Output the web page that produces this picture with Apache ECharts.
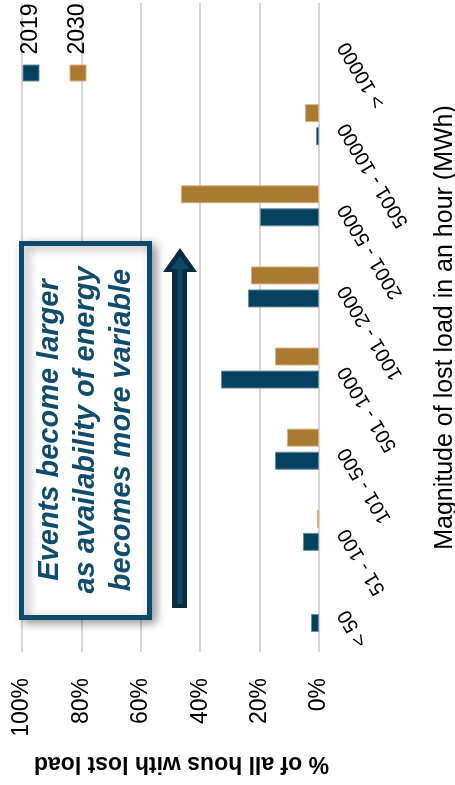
<!DOCTYPE html>
<html>
<head>
<meta charset="utf-8">
<script src="https://cdn.jsdelivr.net/npm/echarts@6/dist/echarts.min.js"></script>
<style>
html,body{margin:0;padding:0;background:#fff;}
#chart{width:455px;height:785px;}
</style>
</head>
<body>
<div id="chart"></div>
<script>
const categories = ['< 50', '51 - 100', '101 - 500', '501 - 1000', '1001 - 2000', '2001 - 5000', '5001 - 10000', '> 10000'];
const seriesNames = ['2019', '2030'];
const values2019 = [2.7, 5.4, 14.8, 33.0, 23.9, 19.9, 1.0, 0];
const values2030 = [0, 0.7, 10.8, 14.8, 22.9, 46.5, 4.7, 0];
const valueTicks = [0, 20, 40, 60, 80, 100];
const valueAxisTitle = '% of all hous with lost load';
const categoryAxisTitle = 'Magnitude of lost load in an hour (MWh)';
const noteLines = ['Events become larger', 'as availability of energy', 'becomes more variable'];

const COLORS = {'2019': '#05425f', '2030': '#a97a2f'};
const BORDERS = {'2019': '#6b8da0', '2030': '#d2b582'};
const FONT = 'Liberation Sans';

const chart = echarts.init(document.getElementById('chart'), null, {renderer: 'canvas'});

const seriesData = {'2019': values2019, '2030': values2030};

const option = {
  animation: false,
  backgroundColor: '#fff',
  textStyle: {fontFamily: FONT},
  grid: {left: 22, right: 136, top: 3, bottom: 133, containLabel: false, outerBoundsMode: 'none'},
  xAxis: {
    type: 'value',
    inverse: true,
    min: valueTicks[0],
    max: valueTicks[valueTicks.length - 1],
    interval: valueTicks[1] - valueTicks[0],
    position: 'bottom',
    axisLine: {show: false},
    axisTick: {show: false},
    splitLine: {show: true, lineStyle: {color: '#d6d6d6', width: 2}},
    axisLabel: {
      formatter: '{value}%', rotate: 90, margin: 26,
      fontSize: 23, color: '#000', fontFamily: FONT
    },
    name: valueAxisTitle,
    nameLocation: 'middle',
    nameRotate: 180,
    nameGap: 100,
    nameTextStyle: {fontSize: 23, fontWeight: 'bold', color: '#000', fontFamily: FONT, padding: [0, 22, 0, 0]}
  },
  yAxis: {
    type: 'category',
    data: categories,
    position: 'right',
    axisLine: {show: false},
    axisTick: {show: false},
    splitLine: {show: false},
    axisLabel: {
      rotate: 121, align: 'right', verticalAlign: 'middle', margin: 24,
      fontSize: 20, color: '#000', fontFamily: FONT, interval: 0
    },
    name: categoryAxisTitle,
    nameLocation: 'middle',
    nameRotate: 90,
    nameGap: 114,
    nameTextStyle: {fontSize: 25, color: '#000', fontFamily: FONT}
  },
  series: ['2030', '2019'].map(name => ({
    name: name,
    type: 'bar',
    data: seriesData[name].map(v => (v === 0 ? null : v)),
    barWidth: 18,
    barGap: '28%',
    itemStyle: {color: COLORS[name], borderColor: BORDERS[name], borderWidth: 1}
  })),
  graphic: []
};

// annotation box + text + arrow + legend
const g = [];
g.push({
  type: 'rect', z: 10,
  shape: {x: 21.5, y: 243.5, width: 128, height: 374},
  style: {fill: '#fff', stroke: '#0f4a6a', lineWidth: 5,
          shadowBlur: 10, shadowColor: 'rgba(0,0,0,0.35)', shadowOffsetX: 4, shadowOffsetY: 3}
});
g.push({
  type: 'text', z: 11, x: 86, y: 430, rotation: Math.PI / 2,
  style: {text: noteLines.join('\n'), font: 'italic bold 29px "Liberation Sans"', fill: '#0f4c6e',
          align: 'center', verticalAlign: 'middle', lineHeight: 36}
});
g.push({
  type: 'polygon', z: 10,
  shape: {points: [[172, 608], [187, 608], [187, 272], [197, 272], [180, 248], [163, 272], [172, 272]]},
  style: {fill: '#0b2b40'}
});
g.push({
  type: 'polygon', z: 11,
  shape: {points: [[177.5, 604], [182.5, 604], [182.5, 269], [189, 269], [180, 256], [171, 269], [177.5, 269]]},
  style: {fill: '#0e4868'}
});
seriesNames.forEach((name, i) => {
  const cx = 31 + i * 47;
  g.push({type: 'rect', z: 10, shape: {x: cx - 8, y: 65, width: 16, height: 16},
          style: {fill: COLORS[name], stroke: BORDERS[name], lineWidth: 1}});
  g.push({type: 'text', z: 10, x: cx, y: 29, rotation: Math.PI / 2,
          style: {text: name, font: '23px "Liberation Sans"', fill: '#000', align: 'center', verticalAlign: 'middle'}});
});
option.graphic = g;

chart.setOption(option);
</script>
</body>
</html>
